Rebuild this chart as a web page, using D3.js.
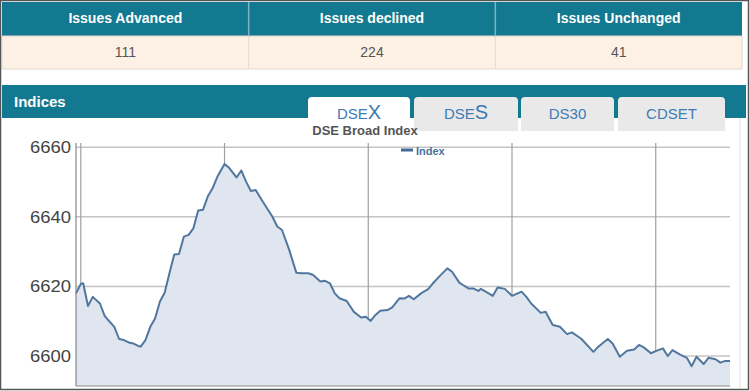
<!DOCTYPE html>
<html><head><meta charset="utf-8">
<script src="https://cdn.jsdelivr.net/npm/d3@7"></script>
<style>
html,body{margin:0;padding:0;background:#fff;}
svg{display:block;font-family:"Liberation Sans",Arial,sans-serif;}
</style></head>
<body><svg id="c" width="750" height="391"></svg>
<script>
// ---- data ----
const statHeaders = ["Issues Advanced", "Issues declined", "Issues Unchanged"];
const statValues = ["111", "224", "41"];
const tabNames = [["DSE","X"], ["DSE","S"], ["DS30",""], ["CDSET",""]];
const chartTitle = "DSE Broad Index";
const seriesName = "Index";
// minutes after 10:00
const minutes = [-2,0,1,3,5,8,10,11,14,16,18,20,22,24,25,27,29,31,33,35,37,39,41,43,45,47,49,51,53,55,57,60,62,65,67,69,71,73,76,80,82,84,87,90,92,95,97,100,102,104,106,108,111,114,117,119,121,123,125,128,130,133,135,137,139,142,145,147,150,153,155,158,160,162,164,166,167,169,172,174,177,180,184,186,188,192,194,197,200,203,205,208,209,214,216,220,222,225,228,231,233,235,238,240,243,245,247,250,253,255,257,260,262,265,267,269,271];
const indexValues = [6618.0,6620.7,6620.9,6614.4,6617.0,6615.1,6611.5,6610.7,6608.4,6604.9,6604.6,6603.9,6603.6,6602.9,6602.7,6604.6,6608.4,6610.8,6615.6,6618.2,6623.8,6629.2,6629.3,6634.3,6634.8,6636.7,6641.8,6642.0,6645.8,6648.2,6651.5,6655.2,6654.0,6651.3,6653.3,6650.1,6647.4,6647.7,6644.3,6640.0,6637.2,6636.2,6630.5,6623.9,6623.8,6623.8,6623.3,6621.4,6621.6,6620.9,6618.0,6616.6,6615.8,6612.7,6611.1,6611.3,6610.1,6611.8,6613.0,6613.2,6614.0,6616.6,6616.5,6617.3,6616.3,6618.0,6619.2,6620.9,6623.1,6625.2,6624.2,6621.1,6620.2,6619.4,6619.4,6618.7,6619.3,6618.5,6617.3,6619.7,6619.3,6617.3,6618.5,6617.0,6615.1,6612.4,6612.7,6608.9,6608.4,6606.3,6606.8,6605.4,6604.9,6601.2,6602.7,6604.9,6603.6,6599.8,6601.5,6601.9,6603.2,6602.5,6600.8,6601.4,6602.2,6600.0,6601.7,6600.5,6599.5,6597.1,6599.8,6597.7,6599.5,6599.1,6598.1,6598.6,6598.6];
const yTicks = [6600, 6620, 6640, 6660];
const xGridMinutes = [0, 60, 120, 180, 240];

const teal = "#137990";
const svg = d3.select("#c");

// ---- stats table ----
const colX = d3.scaleBand().domain(statHeaders).range([2, 742]);
svg.append("rect").attr("x",2).attr("y",2).attr("width",740).attr("height",34).attr("fill",teal);
svg.append("rect").attr("x",2).attr("y",36).attr("width",740).attr("height",33).attr("fill","#fdf1e6")
  .attr("stroke","#e2d8cc").attr("stroke-width",1);
statHeaders.forEach((h,i)=>{
  const x0 = colX(h);
  if(i>0){
    svg.append("line").attr("x1",x0).attr("x2",x0).attr("y1",2).attr("y2",36).attr("stroke","#7fb3c2").attr("stroke-width",1.5);
    svg.append("line").attr("x1",x0).attr("x2",x0).attr("y1",36).attr("y2",69).attr("stroke","#e2d8cc");
  }
  svg.append("text").attr("x",x0+colX.bandwidth()/2).attr("y",23).attr("text-anchor","middle")
    .attr("fill","#fff").attr("font-weight","bold").attr("font-size",14).text(h);
  svg.append("text").attr("x",x0+colX.bandwidth()/2).attr("y",57).attr("text-anchor","middle")
    .attr("fill","#555").attr("font-size",14).text(statValues[i]);
});

// ---- indices bar ----
svg.append("rect").attr("x",2).attr("y",85).attr("width",744).attr("height",33).attr("fill",teal);
svg.append("text").attr("x",14).attr("y",107).attr("fill","#fff").attr("font-weight","bold").attr("font-size",15).text("Indices");
svg.append("line").attr("x1",740).attr("x2",740).attr("y1",118).attr("y2",388).attr("stroke","#ddd");

const tabs = [[308,410],[414,518],[521,614],[618,725]];
tabs.forEach((t,i)=>{
  const w=t[1]-t[0];
  svg.append("path").attr("d",`M${t[0]},131 V101 Q${t[0]},97 ${t[0]+4},97 H${t[1]-4} Q${t[1]},97 ${t[1]},101 V131 Z`)
    .attr("fill", i===0 ? "#fff" : "#e9e9e9");
  const tx = svg.append("text").attr("x",t[0]+w/2).attr("text-anchor","middle").attr("fill","#3d7bb5");
  if(tabNames[i][1]){
    tx.attr("y",119);
    tx.append("tspan").attr("font-size",15).text(tabNames[i][0]);
    tx.append("tspan").attr("font-size",20).text(tabNames[i][1]);
  } else {
    tx.attr("y",119).attr("font-size",15).text(tabNames[i][0]);
  }
});

svg.append("text").attr("x",365).attr("y",135).attr("text-anchor","middle").attr("fill","#555")
  .attr("font-weight","bold").attr("font-size",13).text(chartTitle);

// ---- chart ----
const x = d3.scaleLinear().domain([-2, 271]).range([76, 730]);
const y = d3.scaleLinear().domain([6591.4, 6661.2]).range([386, 143]);

svg.append("g").selectAll("line").data(yTicks).join("line")
  .attr("x1",76).attr("x2",730).attr("y1",d=>y(d)).attr("y2",d=>y(d)).attr("stroke","#c4c4c4").attr("stroke-width",1.5);
svg.append("g").selectAll("line").data(xGridMinutes).join("line")
  .attr("x1",d=>x(d)).attr("x2",d=>x(d)).attr("y1",143).attr("y2",386).attr("stroke","#a0a0a0").attr("stroke-width",1.2);

const pts = minutes.map((m,i)=>[m, indexValues[i]]);
svg.append("path").datum(pts)
  .attr("d", d3.area().x(d=>x(d[0])).y0(386).y1(d=>y(d[1])))
  .attr("fill","#dfe6ef");
svg.append("path").datum(pts)
  .attr("d", d3.line().x(d=>x(d[0])).y(d=>y(d[1])))
  .attr("fill","none").attr("stroke","#52779f").attr("stroke-width",2).attr("stroke-linejoin","round");

// axes
svg.append("line").attr("x1",76).attr("x2",76).attr("y1",143).attr("y2",386).attr("stroke","#888").attr("stroke-width",1.2);
svg.append("line").attr("x1",76).attr("x2",730).attr("y1",386).attr("y2",386).attr("stroke","#888").attr("stroke-width",1.2);
svg.append("g").selectAll("text").data(yTicks).join("text")
  .attr("x",71).attr("y",d=>y(d)+6).attr("text-anchor","end").attr("fill","#444").attr("font-size",16)
  .attr("textLength",41).attr("lengthAdjust","spacingAndGlyphs").text(d=>d);

// legend
svg.append("line").attr("x1",401).attr("x2",413).attr("y1",150).attr("y2",150).attr("stroke","#3f6a99").attr("stroke-width",3);
svg.append("text").attr("x",416).attr("y",155).attr("fill","#4a6f9a").attr("font-weight","bold").attr("font-size",11).text(seriesName);

// outer frame
svg.append("rect").attr("x",0.5).attr("y",0.5).attr("width",748).attr("height",389).attr("fill","none").attr("stroke","#555").attr("stroke-width",1.5);
</script></body></html>
